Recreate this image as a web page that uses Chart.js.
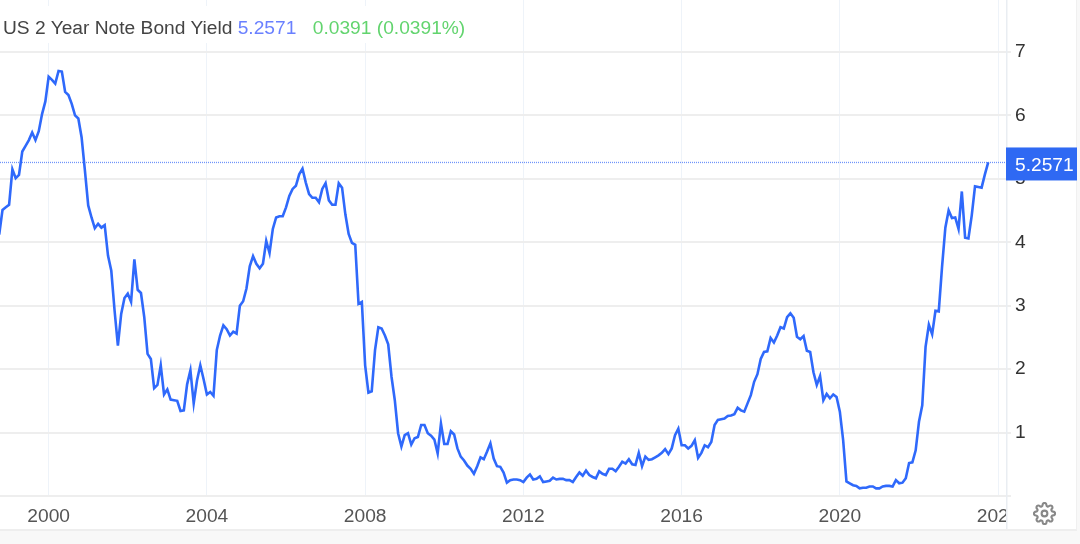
<!DOCTYPE html>
<html>
<head>
    <title>US 2 Year Note Bond Yield</title>
    <script src="https://cdn.jsdelivr.net/npm/chart.js"></script>
    <style>
        html, body {
            margin: 0;
            background-color: #f8f8f8;
        }
        #panel {
            position: absolute;
            left: 0;
            top: 0;
            width: 1076px;
            height: 529px;
            background-color: #fff;
            border-right: 1px solid #f0f0f0;
            border-bottom: 2px solid #eeeeee;
        }
        #priceChart {
            position: absolute;
            left: 0;
            top: 0;
            filter: blur(0.4px);
        }
        #legend {
            position: absolute;
            left: 0;
            top: 6px;
            width: 470px;
            height: 37px;
            line-height: 43px;
            padding-left: 3px;
            box-sizing: border-box;
            background-color: #fff;
            font-family: "Liberation Sans", Arial, sans-serif;
            font-size: 19.2px;
            color: #444;
            white-space: nowrap;
            filter: blur(0.3px);
        }
        #legend .price { color: #6a80ff; }
        #legend .change { color: #62d46e; margin-left: 11px; }
        #gear {
            position: absolute;
            left: 1033px;
            top: 502px;
        }
    </style>
</head>
<body>
    <div id="panel"></div>
    <canvas id="priceChart" width="1080" height="544"></canvas>
    <div id="legend">US 2 Year Note Bond Yield <span class="price">5.2571</span> <span class="change">0.0391 (0.0391%)</span></div>
    <svg id="gear" width="23" height="23" viewBox="0 0 24 24" fill="none" stroke="#888" stroke-width="2.2">
        <circle cx="12" cy="12" r="3"></circle>
        <path d="M19.4 15a1.65 1.65 0 0 0 .33 1.82l.06.06a2 2 0 0 1 0 2.83 2 2 0 0 1-2.83 0l-.06-.06a1.65 1.65 0 0 0-1.82-.33 1.65 1.65 0 0 0-1 1.51V21a2 2 0 0 1-2 2 2 2 0 0 1-2-2v-.09A1.65 1.65 0 0 0 9 19.4a1.65 1.65 0 0 0-1.82.33l-.06.06a2 2 0 0 1-2.83 0 2 2 0 0 1 0-2.83l.06-.06a1.65 1.65 0 0 0 .33-1.82 1.65 1.65 0 0 0-1.51-1H3a2 2 0 0 1-2-2 2 2 0 0 1 2-2h.09A1.65 1.65 0 0 0 4.6 9a1.65 1.65 0 0 0-.33-1.82l-.06-.06a2 2 0 0 1 0-2.83 2 2 0 0 1 2.83 0l.06.06a1.65 1.65 0 0 0 1.82.33H9a1.65 1.65 0 0 0 1-1.51V3a2 2 0 0 1 2-2 2 2 0 0 1 2 2v.09a1.65 1.65 0 0 0 1 1.51 1.65 1.65 0 0 0 1.82-.33l.06-.06a2 2 0 0 1 2.83 0 2 2 0 0 1 0 2.83l-.06.06a1.65 1.65 0 0 0-.33 1.82V9a1.65 1.65 0 0 0 1.51 1H21a2 2 0 0 1 2 2 2 2 0 0 1-2 2h-.09a1.65 1.65 0 0 0-1.51 1z"></path>
    </svg>

    <script>
        // monthly closes, first one is Oct 1998
        var startYear = 1998.75;
        var yields = [
            4.12, 4.51, 4.55, 4.59, 5.15, 5.01, 5.06, 5.43, 5.52, 5.61,
            5.73, 5.61, 5.75, 6.02, 6.22, 6.61, 6.56, 6.50, 6.70, 6.69,
            6.37, 6.32, 6.18, 6.00, 5.95, 5.65, 5.13, 4.58, 4.39, 4.22,
            4.29, 4.23, 4.27, 3.79, 3.55, 2.92, 2.37, 2.87, 3.12, 3.19,
            3.06, 3.73, 3.25, 3.20, 2.82, 2.24, 2.16, 1.70, 1.75, 2.06,
            1.60, 1.68, 1.52, 1.51, 1.50, 1.34, 1.35, 1.76, 1.98, 1.46,
            1.82, 2.06, 1.84, 1.60, 1.64, 1.58, 2.30, 2.53, 2.69, 2.63,
            2.53, 2.59, 2.56, 3.00, 3.07, 3.27, 3.62, 3.78, 3.66, 3.59,
            3.66, 4.02, 3.83, 4.21, 4.39, 4.41, 4.41, 4.55, 4.73, 4.84,
            4.89, 5.07, 5.16, 4.94, 4.76, 4.70, 4.70, 4.63, 4.84, 4.93,
            4.66, 4.59, 4.59, 4.93, 4.86, 4.44, 4.13, 3.99, 3.96, 3.03,
            3.06, 2.06, 1.63, 1.65, 2.30, 2.66, 2.64, 2.53, 2.39, 1.88,
            1.51, 0.99, 0.78, 0.96, 0.99, 0.81, 0.91, 0.93, 1.12, 1.12,
            0.99, 0.95, 0.89, 0.67, 1.14, 0.82, 0.82, 1.02, 0.97, 0.75,
            0.62, 0.56, 0.48, 0.43, 0.35, 0.47, 0.61, 0.58, 0.70, 0.83,
            0.59, 0.47, 0.46, 0.37, 0.21, 0.25, 0.26, 0.26, 0.25, 0.22,
            0.29, 0.34, 0.26, 0.27, 0.31, 0.22, 0.23, 0.24, 0.29, 0.26,
            0.27, 0.27, 0.25, 0.25, 0.22, 0.30, 0.37, 0.32, 0.40, 0.33,
            0.30, 0.28, 0.39, 0.35, 0.33, 0.43, 0.43, 0.39, 0.46, 0.54,
            0.51, 0.58, 0.50, 0.49, 0.68, 0.47, 0.62, 0.57, 0.58, 0.61,
            0.64, 0.68, 0.74, 0.66, 0.75, 0.96, 1.06, 0.80, 0.80, 0.75,
            0.79, 0.88, 0.60, 0.68, 0.80, 0.77, 0.85, 1.12, 1.20, 1.21,
            1.22, 1.26, 1.27, 1.29, 1.39, 1.35, 1.33, 1.46, 1.59, 1.80,
            1.92, 2.16, 2.27, 2.28, 2.49, 2.42, 2.53, 2.66, 2.64, 2.82,
            2.88, 2.81, 2.51, 2.47, 2.52, 2.29, 2.27, 1.95, 1.75, 1.89,
            1.51, 1.61, 1.54, 1.60, 1.56, 1.33, 0.88, 0.23, 0.20, 0.17,
            0.16, 0.12, 0.13, 0.13, 0.15, 0.15, 0.12, 0.12, 0.15, 0.16,
            0.16, 0.15, 0.25, 0.20, 0.21, 0.28, 0.52, 0.53, 0.72, 1.17,
            1.43, 2.35, 2.70, 2.55, 2.92, 2.91, 3.61, 4.23, 4.50, 4.38,
            4.39, 4.21, 4.80, 4.07, 4.06, 4.42, 4.88, 4.87, 4.86, 5.07,
            5.2571
        ];
        var lastPrice = 5.2571;
        var axisMinYear = 1998.77;
        var axisMaxYear = 2024.2;
        var axisMaxYield = 7.818;

        var linePoints = yields.map(function(v, i) {
            return { x: startYear + i / 12, y: v };
        });

        // right hand pane: axis line, clipped year label, last price tag
        var pricePane = {
            id: 'pricePane',
            afterDraw: function(chart) {
                var c = chart.ctx;
                var area = chart.chartArea;
                var y = chart.scales.y.getPixelForValue(lastPrice);
                c.save();
                c.fillStyle = '#fff';
                c.fillRect(area.right, area.bottom + 1, 70, 32);
                c.fillStyle = '#e9edf2';
                c.fillRect(area.right, 0, 1.5, 529);
                c.fillStyle = '#2f69f3';
                c.fillRect(area.right, y - 15, 71, 33);
                c.fillStyle = '#fff';
                c.font = '19.2px "Liberation Sans", Arial, sans-serif';
                c.textBaseline = 'middle';
                c.fillText(lastPrice.toFixed(4), area.right + 9, y + 3);
                c.restore();
            }
        };

        var ctx = document.getElementById('priceChart').getContext('2d');
        var priceChart = new Chart(ctx, {
            type: 'line',
            data: {
                datasets: [{
                    label: 'US 2 Year Note Bond Yield',
                    data: linePoints,
                    borderColor: '#2f69fb',
                    borderWidth: 2.6,
                    pointRadius: 0,
                    tension: 0
                }, {
                    label: 'Last price',
                    data: [{ x: axisMinYear, y: lastPrice }, { x: axisMaxYear, y: lastPrice }],
                    borderColor: '#6f94fa',
                    borderWidth: 1.3,
                    borderDash: [1, 1],
                    pointRadius: 0
                }]
            },
            options: {
                responsive: false,
                animation: false,
                layout: { padding: { left: 0, top: 0, right: 4, bottom: 15 } },
                plugins: {
                    legend: { display: false },
                    tooltip: { enabled: false }
                },
                scales: {
                    x: {
                        type: 'linear',
                        min: axisMinYear,
                        max: axisMaxYear,
                        afterFit: function(scale) {
                            scale.height = 33;
                            scale.paddingLeft = 0;
                            scale.paddingRight = 0;
                        },
                        border: { display: false },
                        grid: { color: '#eef3f9', lineWidth: 1, drawTicks: false },
                        ticks: {
                            stepSize: 4,
                            includeBounds: false,
                            autoSkip: false,
                            maxRotation: 0,
                            padding: 9,
                            color: '#555',
                            font: { family: '"Liberation Sans", Arial, sans-serif', size: 19.2 },
                            callback: function(v) { return String(v); }
                        }
                    },
                    y: {
                        position: 'right',
                        min: 0,
                        max: axisMaxYield,
                        afterFit: function(scale) {
                            scale.width = 70;
                            scale.paddingTop = 0;
                            scale.paddingBottom = 0;
                        },
                        border: { display: false },
                        grid: { color: '#eeeeee', lineWidth: 2, tickLength: 5 },
                        ticks: {
                            stepSize: 1,
                            includeBounds: false,
                            padding: 4,
                            color: '#333',
                            font: { family: '"Liberation Sans", Arial, sans-serif', size: 19.2 },
                            callback: function(v) { return v === 0 ? '' : String(v); }
                        }
                    }
                }
            },
            plugins: [pricePane]
        });
    </script>
</body>
</html>
